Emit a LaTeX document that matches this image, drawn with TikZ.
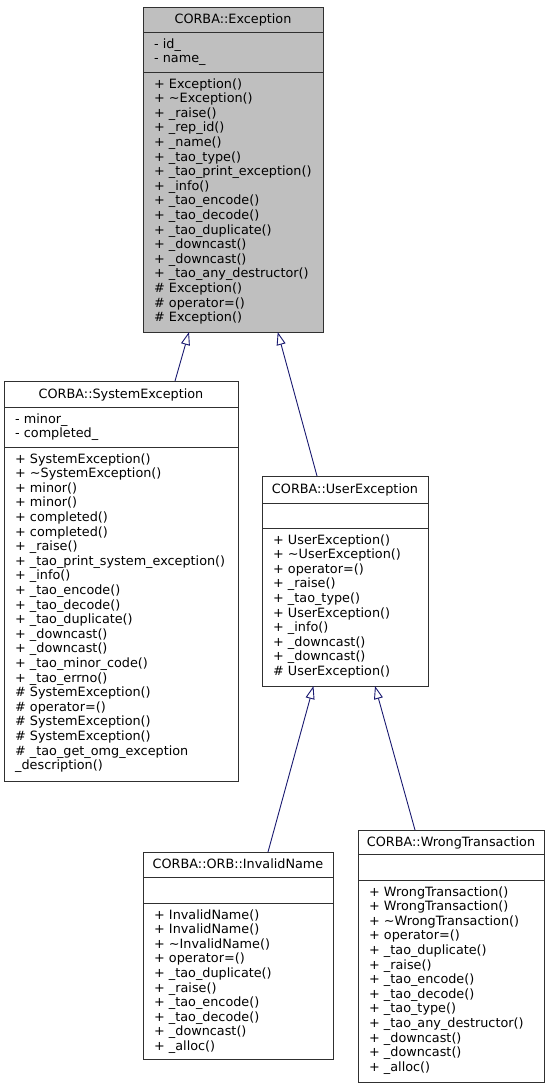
\documentclass[tikz,border=0pt]{standalone}
\usepackage{fontspec}
\setmainfont{DejaVu Sans}
\usetikzlibrary{arrows.meta}
\definecolor{edgeblue}{HTML}{191970}
\definecolor{grayfill}{HTML}{BFBFBF}
\definecolor{boxline}{HTML}{303030}
\newcommand\linesat[4]{%
  \foreach \t [count=\i] in {#4} \node[txt] (#1\i) at (#2, {#3+(\i-1)*14.6}) {\t};}
\begin{document}
\begin{tikzpicture}[x=1pt,y=-1pt,
  box/.style={draw=boxline, line width=1pt, fill=white, inner sep=0pt, outer sep=0pt, anchor=north west},
  sepline/.style={draw=boxline, line width=1pt},
  txt/.style={font=\fontsize{12.8}{14.6}\selectfont, inner sep=0pt, anchor=base west},
  ttl/.style={font=\fontsize{12.8}{14.6}\selectfont, inner sep=0pt, anchor=base},
  inh/.style={draw=edgeblue, line width=0.9pt, -{Triangle[open, length=13pt, width=9pt]}}]
\useasboundingbox (0,0) rectangle (549,1088);

% CORBA::Exception
\node[box, fill=grayfill, minimum width=180pt, minimum height=325pt] (exc) at (143,7) {};
\draw[sepline] (143,32) -- (323,32);
\draw[sepline] (143,72) -- (323,72);
\node[ttl] (exct) at (233,23) {CORBA::Exception};
\linesat{exca}{154}{48}{- id\_, - name\_}
\linesat{excm}{154}{88}{+ Exception(), + \textasciitilde Exception(), + \_raise(), + \_rep\_id(), + \_name(), + \_tao\_type(), + \_tao\_print\_exception(), + \_info(), + \_tao\_encode(), + \_tao\_decode(), + \_tao\_duplicate(), + \_downcast(), + \_downcast(), + \_tao\_any\_destructor(), \# Exception(), \# operator=(), \# Exception()}

% CORBA::SystemException
\node[box, minimum width=234pt, minimum height=400pt] (sys) at (4,381) {};
\draw[sepline] (4,407) -- (238,407);
\draw[sepline] (4,447) -- (238,447);
\node[ttl] (syst) at (121,398) {CORBA::SystemException};
\linesat{sysa}{15}{423}{- minor\_, - completed\_}
\linesat{sysm}{15}{463}{+ SystemException(), + \textasciitilde SystemException(), + minor(), + minor(), + completed(), + completed(), + \_raise(), + \_tao\_print\_system\_exception(), + \_info(), + \_tao\_encode(), + \_tao\_decode(), + \_tao\_duplicate(), + \_downcast(), + \_downcast(), + \_tao\_minor\_code(), + \_tao\_errno(), \# SystemException(), \# operator=(), \# SystemException(), \# SystemException(), \# \_tao\_get\_omg\_exception, \_description()}

% CORBA::UserException
\node[box, minimum width=166pt, minimum height=210pt] (usr) at (262,476) {};
\draw[sepline] (262,503) -- (428,503);
\draw[sepline] (262,528) -- (428,528);
\node[ttl] (usrt) at (345,493.5) {CORBA::UserException};
\linesat{usrm}{273}{544}{+ UserException(), + \textasciitilde UserException(), + operator=(), + \_raise(), + \_tao\_type(), + UserException(), + \_info(), + \_downcast(), + \_downcast(), \# UserException()}

% CORBA::ORB::InvalidName
\node[box, minimum width=190pt, minimum height=207pt] (inv) at (143,852) {};
\draw[sepline] (143,877) -- (333,877);
\draw[sepline] (143,903) -- (333,903);
\node[ttl] (invt) at (238,868) {CORBA::ORB::InvalidName};
\linesat{invm}{154}{919}{+ InvalidName(), + InvalidName(), + \textasciitilde InvalidName(), + operator=(), + \_tao\_duplicate(), + \_raise(), + \_tao\_encode(), + \_tao\_decode(), + \_downcast(), + \_alloc()}

% CORBA::WrongTransaction
\node[box, minimum width=186pt, minimum height=252pt] (wrt) at (358,830) {};
\draw[sepline] (358,854) -- (544,854);
\draw[sepline] (358,880) -- (544,880);
\node[ttl] (wrtt) at (451,846) {CORBA::WrongTransaction};
\linesat{wrtm}{369}{896}{+ WrongTransaction(), + WrongTransaction(), + \textasciitilde WrongTransaction(), + operator=(), + \_tao\_duplicate(), + \_raise(), + \_tao\_encode(), + \_tao\_decode(), + \_tao\_type(), + \_tao\_any\_destructor(), + \_downcast(), + \_downcast(), + \_alloc()}

% inheritance
\draw[inh] (175,0 |- sys.north) -- (189,0 |- exc.south);
\draw[inh] (317,0 |- usr.north) -- (277.7,0 |- exc.south);
\draw[inh] (268,0 |- inv.north) -- (313.5,0 |- usr.south);
\draw[inh] (415,0 |- wrt.north) -- (375,0 |- usr.south);
\end{tikzpicture}
\end{document}
